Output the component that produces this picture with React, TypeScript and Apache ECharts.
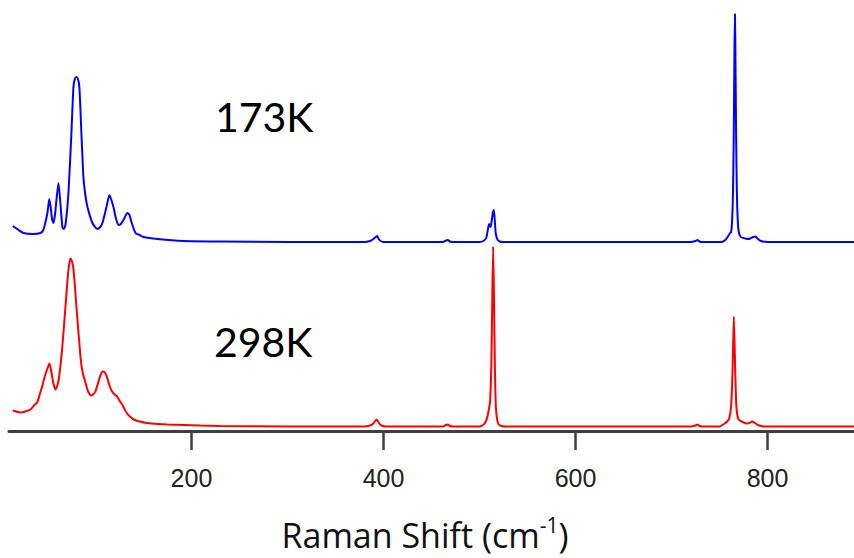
import React, { useEffect, useRef } from "react";
import * as echarts from "echarts";

// Raman spectra: [shift (cm-1), intensity above the trace's own baseline]
const spectrum173K: [number, number][] = [
  [14, 16], [20, 12], [25, 9], [35, 8], [42.7, 9], [45.8, 12], [48, 20], [50, 29], [52, 43],
  [53.5, 34], [55, 22], [56.3, 19], [58, 28], [59.4, 42], [61.5, 59], [63.5, 39], [65.6, 15],
  [67, 13], [68.8, 17], [71.9, 49], [75, 109], [77.1, 155], [78.5, 163], [80.2, 165], [81.8, 163],
  [83.3, 155], [85.4, 109], [87.5, 65], [89.5, 47], [91.7, 35], [96.9, 19], [102.1, 13], [105, 15],
  [107.3, 19], [111.5, 35], [114.6, 47], [118.8, 35], [121, 25], [124, 17], [126.5, 18], [129.2, 22],
  [133.3, 29], [135.5, 27], [137.5, 20], [141.7, 9], [146, 7], [150, 5], [164.6, 3], [191.7, 1],
  [230, 0.5], [300, 0], [380, 0], [386, 1], [389.5, 3], [392, 5], [393.5, 6], [395, 3], [397, 1],
  [400, 0], [462, 0], [465, 1.5], [467, 2], [469, 0.5], [472, 0], [500, 0], [504, 1], [507, 4],
  [509, 14], [510, 18], [511.5, 15], [512.5, 20], [514, 30], [515, 32], [516, 20], [517, 8],
  [519, 2], [523, 0], [720, 0], [725, 1], [727, 2], [729, 0.5], [732, 0], [752, 0], [756, 2],
  [759, 6], [761, 9], [762, 10], [763, 20], [764, 50], [764.8, 110], [765.5, 190], [766, 228],
  [766.5, 190], [767.2, 110], [768, 50], [769, 20], [770, 10], [772, 5], [775, 4], [779, 3],
  [782, 3.5], [785, 5], [787.5, 5.5], [790, 3], [793, 1], [800, 0], [890, 0],
];

const spectrum298K: [number, number][] = [
  [14, 16], [21.9, 14], [27, 15], [32.3, 17], [36, 21], [39.3, 24], [42, 32], [44.5, 40],
  [47.2, 50], [49.7, 57], [52.1, 63], [53.5, 58], [54.9, 50], [56.5, 42], [58.3, 37], [60, 40],
  [61.8, 47], [65.3, 77], [68.8, 120], [71.6, 154], [73, 164], [74, 168], [75.3, 166], [76.8, 160],
  [78.5, 142], [80.2, 120], [84.4, 70], [86.5, 55], [89.6, 44], [92, 36], [95.5, 31], [97.5, 32],
  [100, 35], [104.5, 49], [106.5, 54], [108.6, 55], [110.5, 53], [112.8, 47], [115, 40],
  [117.4, 35], [120, 32], [122.6, 30], [125, 26], [127.8, 22], [130, 18], [133, 13], [136, 10],
  [139.9, 7], [146, 5], [153.9, 3.5], [165, 2.5], [174.7, 2], [209, 1], [230, 0.5], [300, 0],
  [380, 0], [386, 1], [389.5, 3], [392.7, 7], [394.5, 5], [396.5, 2], [399, 0.5], [403, 0],
  [462, 0], [465, 1.5], [467, 2], [469, 0.5], [472, 0], [500, 0], [503, 1], [506, 4], [508, 9],
  [509.7, 17], [511, 25], [512.3, 60], [513.2, 120], [514.2, 180], [515.2, 120], [516, 60],
  [517, 20], [518.5, 6], [520, 2], [523, 0.5], [527, 0], [720, 0], [725, 1], [727, 2],
  [729, 0.5], [732, 0], [750, 0], [753, 1.5], [756, 3.5], [758, 5], [760, 8], [762, 20],
  [763.5, 55], [764.9, 110], [766.3, 55], [767.5, 20], [769, 9], [771, 6], [775, 4], [779, 3],
  [782, 4], [784, 5], [786, 4], [789, 2], [793, 0.5], [800, 0], [890, 0],
];

const shiftTicks = [200, 400, 600, 800];
const traceLabels = ["173K", "298K"];

// vertical stacking of the two traces
const OFFSET_173K = 189;
const OFFSET_298K = 4.5;

const shifted = (d: [number, number][], off: number) => d.map(([x, y]) => [x, y + off]);

export default function App() {
  const ref = useRef<HTMLDivElement>(null);

  useEffect(() => {
    if (!ref.current) return;
    const chart = echarts.init(ref.current, undefined, { renderer: "svg" });
    const axisColor = "#3f3f3f";
    const titleFont = '"Open Sans", Lato, sans-serif';
    chart.setOption({
      animation: false,
      backgroundColor: "#ffffff",
      grid: { left: 9, right: 0, top: 0, bottom: 127 },
      xAxis: {
        type: "value",
        min: 10,
        max: 890,
        splitLine: { show: false },
        axisLine: { lineStyle: { color: axisColor, width: 3 } },
        axisTick: {
          customValues: shiftTicks,
          length: 19,
          lineStyle: { color: axisColor, width: 2.5 },
        },
        axisLabel: {
          customValues: shiftTicks,
          fontSize: 25,
          fontFamily: '"Liberation Sans", Arial, sans-serif',
          color: "#222222",
          margin: 34,
        },
      },
      yAxis: { type: "value", min: 0, max: 431, show: false },
      series: [
        {
          type: "line",
          data: shifted(spectrum173K, OFFSET_173K),
          showSymbol: false,
          smooth: 0.2,
          lineStyle: { color: "#0000ff", width: 2 },
        },
        {
          type: "line",
          data: shifted(spectrum298K, OFFSET_298K),
          showSymbol: false,
          smooth: 0.2,
          lineStyle: { color: "#ff0000", width: 2 },
        },
      ],
      graphic: [
        {
          type: "text",
          x: 215,
          y: 116,
          style: {
            text: traceLabels[0],
            font: '41px Lato, "Open Sans", sans-serif',
            fill: "#000000",
            verticalAlign: "middle",
          },
        },
        {
          type: "text",
          x: 214,
          y: 341,
          style: {
            text: traceLabels[1],
            font: '41px Lato, "Open Sans", sans-serif',
            fill: "#000000",
            verticalAlign: "middle",
          },
        },
        {
          type: "text",
          x: 425,
          y: 535,
          style: {
            text: "{a|Raman Shift (cm}{b|-1}{a|)}",
            align: "center",
            verticalAlign: "middle",
            rich: {
              a: { font: `34px ${titleFont}`, fill: "#111111", lineHeight: 42 },
              b: {
                font: `21px ${titleFont}`,
                fill: "#111111",
                lineHeight: 42,
                verticalAlign: "top",
                padding: [0, 0, 14, 0],
              },
            },
          },
        },
      ],
    });
    return () => chart.dispose();
  }, []);

  return (
    <div
      ref={ref}
      style={{ position: "fixed", left: 0, top: 0, width: 854, height: 558, background: "#fff" }}
    />
  );
}
